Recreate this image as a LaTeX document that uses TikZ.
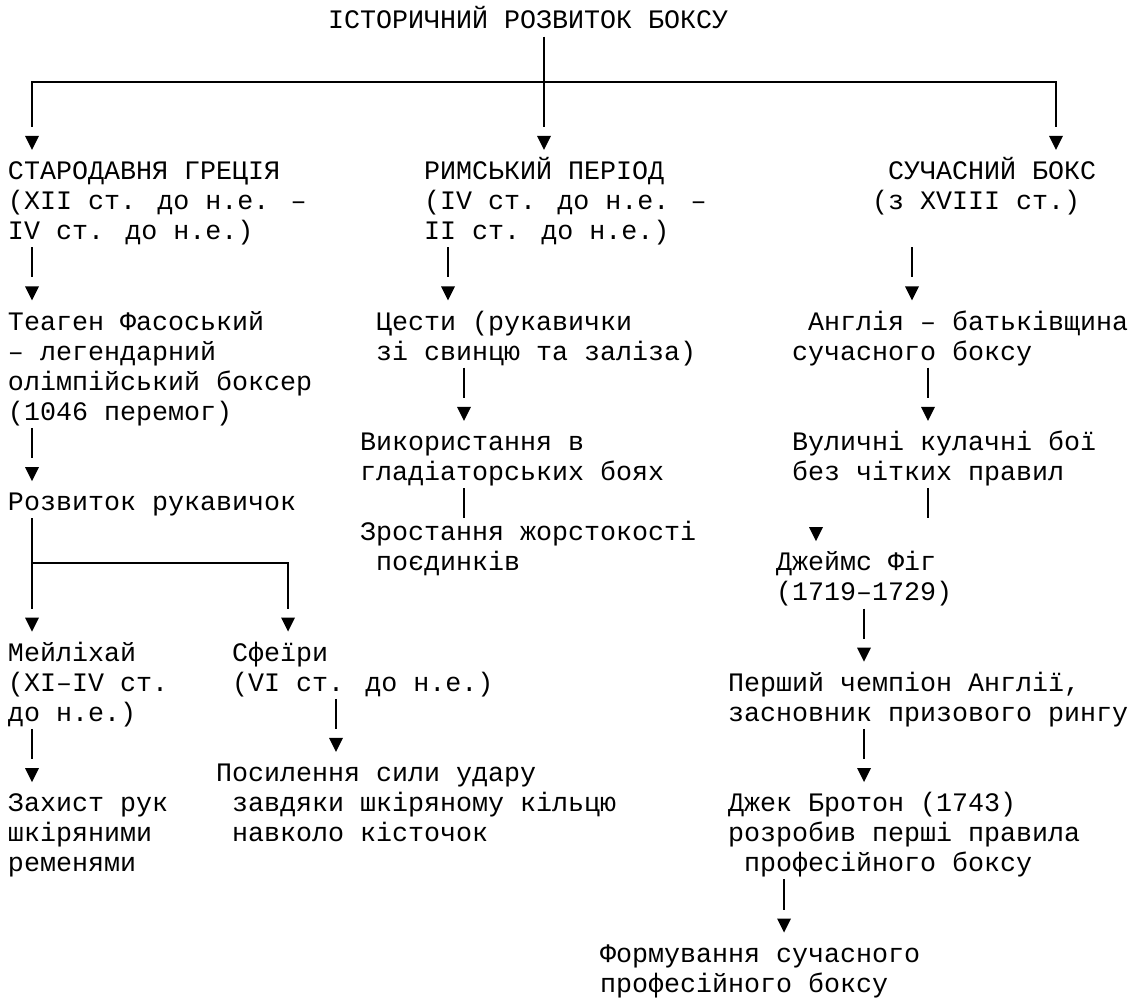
\documentclass[tikz,border=0pt]{standalone}
\usepackage{fontspec}
\setmonofont{Liberation Mono}
\newfontfamily\monofam{Liberation Mono}
\newcommand\colx[1]{(16*(#1)+16)}
\newcommand\rowy[1]{(30.1*(#1)+21.5)}
\newcommand\ls[1]{\vtop{\baselineskip=30.1pt\lineskiplimit=-100pt\lineskip=0pt #1}}
\newcommand\ind{\hphantom{0}}
\tikzset{
  txt/.style={anchor=base west, inner sep=0pt, outer sep=0pt,
    font=\monofam\fontsize{26.667pt}{30.1pt}\selectfont, text=black},
  tri/.style={rectangle, draw=none, inner sep=0pt, outer sep=0pt,
    minimum width=14pt, minimum height=14pt,
    path picture={\fill[black] (path picture bounding box.north west) --
      (path picture bounding box.north east) --
      (path picture bounding box.south) -- cycle;}},
  conn/.style={line width=1.8pt, draw=black}
}
% text block: name, column, row, lines
\newcommand\T[4]{\node[txt] (#1) at ({\colx{#2}-8},{\rowy{#3}+7.5}) {\ls{#4}};}
% connector with arrowhead: name, column, row of bar (arrow in the next row)
\newcommand\LA[3]{%
  \node[tri] (#1) at ({\colx{#2}},{\rowy{#3+1}+1}) {};
  \coordinate (#1s) at ({\colx{#2}},{\rowy{#3}-15});
  \draw[conn] (#1s) -- ([yshift=9pt]#1.north);}
\begin{document}
\begin{tikzpicture}[x=1pt,y=-1pt]
\useasboundingbox[fill=white] (0,0) rectangle (1132,1000);

% ---------- texts ----------
\T{title}{20}{0}{\hbox{ІСТОРИЧНИЙ РОЗВИТОК БОКСУ}}
\T{greece}{0}{5}{\hbox{СТАРОДАВНЯ ГРЕЦІЯ}\hbox{(XII ст. до н.е. –}\hbox{IV ст. до н.е.)}}
\T{roman}{26}{5}{\hbox{РИМСЬКИЙ ПЕРІОД}\hbox{(IV ст. до н.е. –}\hbox{II ст. до н.е.)}}
\T{modern}{54}{5}{\hbox{\ind СУЧАСНИЙ БОКС}\hbox{(з XVIII ст.)}}
\T{teagen}{0}{10}{\hbox{Теаген Фасоський}\hbox{– легендарний}\hbox{олімпійський боксер}\hbox{(1046 перемог)}}
\T{rozvytok}{0}{16}{\hbox{Розвиток рукавичок}}
\T{meil}{0}{21}{\hbox{Мейліхай}\hbox{(XI–IV ст.}\hbox{до н.е.)}}
\T{zakhyst}{0}{26}{\hbox{Захист рук}\hbox{шкіряними}\hbox{ременями}}
\T{sfeiry}{14}{21}{\hbox{Сфеїри}\hbox{(VI ст. до н.е.)}}
\T{posyl}{13}{25}{\hbox{Посилення сили удару}\hbox{\ind завдяки шкіряному кільцю}\hbox{\ind навколо кісточок}}
\T{tsesty}{23}{10}{\hbox{Цести (рукавички}\hbox{зі свинцю та заліза)}}
\T{vykor}{22}{14}{\hbox{Використання в}\hbox{гладіаторських боях}}
\T{zrost}{22}{17}{\hbox{Зростання жорстокості}\hbox{\ind поєдинків}}
\T{anglia}{49}{10}{\hbox{\ind Англія – батьківщина}\hbox{сучасного боксу}}
\T{vulych}{49}{14}{\hbox{Вуличні кулачні бої}\hbox{без чітких правил}}
\T{fig}{48}{18}{\hbox{Джеймс Фіг}\hbox{(1719–1729)}}
\T{pershyi}{45}{22}{\hbox{Перший чемпіон Англії,}\hbox{засновник призового рингу}}
\T{broton}{45}{26}{\hbox{Джек Бротон (1743)}\hbox{розробив перші правила}\hbox{\ind професійного боксу}}
\T{formuv}{37}{31}{\hbox{Формування сучасного}\hbox{професійного боксу}}

% ---------- top branching ----------
\node[tri] (ta1) at ({\colx{1}},{\rowy{4}+1}) {};
\node[tri] (ta2) at ({\colx{33}},{\rowy{4}+1}) {};
\node[tri] (ta3) at ({\colx{65}},{\rowy{4}+1}) {};
\coordinate (tts) at ({\colx{33}},{\rowy{1}-15});
\coordinate (thr) at ({\colx{65}},{\rowy{2}});
\draw[conn] (tts) -- ([yshift=9pt]ta2.north);
\draw[conn] ([yshift=9pt]ta1.north) |- (thr) -- ([yshift=9pt]ta3.north);

% ---------- left column ----------
\LA{ga}{1}{8}
\LA{tga}{1}{14}
\node[tri] (rb1) at ({\colx{1}},{\rowy{20}+1}) {};
\node[tri] (rb2) at ({\colx{17}},{\rowy{20}+1}) {};
\coordinate (rbs) at ({\colx{1}},{\rowy{17}-15});
\coordinate (rbj) at ({\colx{1}},{\rowy{18}});
\draw[conn] (rbs) -- ([yshift=9pt]rb1.north);
\draw[conn] (rbj) -| ([yshift=9pt]rb2.north);
\LA{ma}{1}{24}
\LA{sa}{20}{23}

% ---------- middle column ----------
\LA{ra}{27}{8}
\LA{tsa}{28}{12}
\coordinate (vks) at ({\colx{28}},{\rowy{16}-15});
\coordinate (vke) at ({\colx{28}},{\rowy{16}+15});
\draw[conn] (vks) -- (vke);

% ---------- right column ----------
\LA{sua}{56}{8}
\LA{ana}{57}{12}
\coordinate (vls) at ({\colx{57}},{\rowy{16}-15});
\coordinate (vle) at ({\colx{57}},{\rowy{16}+15});
\draw[conn] (vls) -- (vle);
\node[tri] (vla) at ({\colx{50}},{\rowy{17}+1}) {};
\LA{fa}{53}{20}
\LA{pa}{53}{24}
\LA{ba}{48}{29}
\end{tikzpicture}
\end{document}
